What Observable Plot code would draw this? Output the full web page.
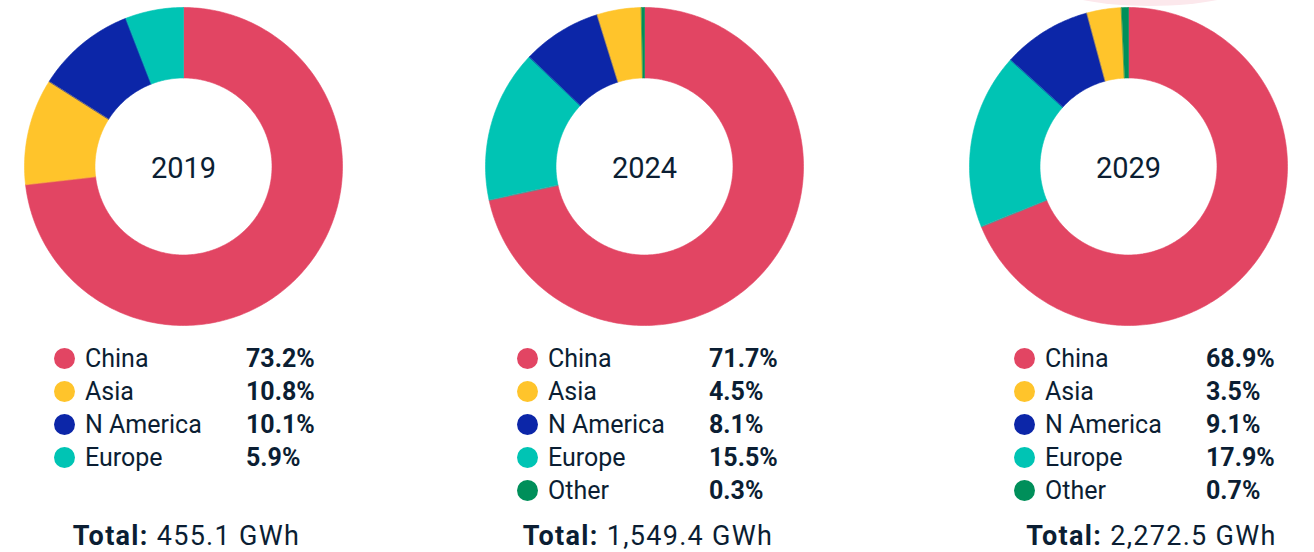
<!DOCTYPE html>
<html>
<head>
<meta charset="utf-8">
<script src="https://cdn.jsdelivr.net/npm/d3@7"></script>
<script src="https://cdn.jsdelivr.net/npm/@observablehq/plot@0.6"></script>
<style>
  html, body { margin: 0; padding: 0; background: #fff; }
  body { width: 1314px; height: 552px; position: relative; overflow: hidden; font-family: Roboto, "Noto Sans", sans-serif; color: #0b1e33; }
  .deco { position: absolute; left: 1050px; top: -40px; width: 200px; height: 46px; border-radius: 50%; background: #fce8ec; z-index: 0; }
  .donut { position: absolute; top: 1px; z-index: 1; }
  .legend { position: absolute; top: 342px; z-index: 1; }
  .row { position: relative; height: 33px; line-height: 33px; font-size: 25px; white-space: nowrap; }
  .dot { position: absolute; left: 0; top: 6px; width: 21px; height: 21px; border-radius: 50%; }
  .lab { position: absolute; left: 31px; top: 0; }
  .pct { position: absolute; left: 192px; top: 0; font-weight: 700; }
  .total { position: absolute; top: 519px; font-size: 27px; letter-spacing: 1.3px; line-height: 34px; white-space: nowrap; transform: translateX(-50%); z-index: 1; }
  .total b { font-weight: 700; }
</style>
</head>
<body>
<div class="deco"></div>
<script>
// ---- data ----
const years = ["2019", "2024", "2029"];
const regions = ["China", "Asia", "N America", "Europe", "Other"];
const regionColors = ["#e24563", "#ffc42b", "#0c26a8", "#00c4b4", "#008f5a"];
// share (%) per region, in the order of `regions`
const share2019 = [73.2, 10.8, 10.1, 5.9, null];
const share2024 = [71.7, 4.5, 8.1, 15.5, 0.3];
const share2029 = [68.9, 3.5, 9.1, 17.9, 0.7];
// clockwise slice order (from 12 o'clock) as drawn in each donut
const order2019 = ["China", "Asia", "N America", "Europe"];
const order2024 = ["China", "Europe", "N America", "Asia", "Other"];
const order2029 = ["China", "Europe", "N America", "Asia", "Other"];
const totals = ["455.1", "1,549.4", "2,272.5"];

const shares = [share2019, share2024, share2029];
const orders = [order2019, order2024, order2029];

// ---- layout ----
const donutCenters = [182.5, 643.5, 1128];
const legendLefts = [54, 517, 1014];
const totalCenters = [186.5, 648, 1151.5];
const outerPx = 159, innerPx = 88.5, boxPx = 330;
const innerRatio = innerPx / outerPx;
const half = (boxPx / 2) / outerPx;

function slicePolygons(shareArr, order) {
  const vals = order.map(r => ({region: r, value: shareArr[regions.indexOf(r)]}));
  const sum = d3.sum(vals, d => d.value);
  let acc = 0;
  return vals.map(d => {
    const a0 = acc / sum * 2 * Math.PI;
    acc += d.value;
    const a1 = acc / sum * 2 * Math.PI;
    const n = Math.max(2, Math.ceil((a1 - a0) / (Math.PI / 180)));
    const outer = d3.range(n + 1).map(i => {
      const a = a0 + (a1 - a0) * i / n;
      return [Math.sin(a), -Math.cos(a)];
    });
    const inner = d3.range(n + 1).map(i => {
      const a = a1 - (a1 - a0) * i / n;
      return [innerRatio * Math.sin(a), -innerRatio * Math.cos(a)];
    });
    const ring = outer.concat(inner);
    ring.push(ring[0]);
    return {type: "Feature", properties: {region: d.region}, geometry: {type: "Polygon", coordinates: [ring]}};
  });
}

years.forEach((year, k) => {
  const features = slicePolygons(shares[k], orders[k]);
  const chart = Plot.plot({
    width: boxPx,
    height: boxPx,
    margin: 0,
    projection: {type: "identity", domain: {type: "MultiPoint", coordinates: [[-half, -half], [half, half]]}},
    color: {domain: regions, range: regionColors},
    style: {background: "transparent", fontFamily: "Roboto, sans-serif"},
    marks: [
      Plot.geo(features, {fill: d => d.properties.region, stroke: d => d.properties.region, strokeWidth: 0.6}),
      Plot.text([year], {x: () => 0, y: () => 0, dy: 2, text: d => d, fontSize: 29, fill: "#0b1e33", fontWeight: 400})
    ]
  });
  const wrap = document.createElement("div");
  wrap.className = "donut";
  wrap.style.left = (donutCenters[k] - boxPx / 2) + "px";
  wrap.appendChild(chart);
  document.body.appendChild(wrap);

  // legend
  const leg = document.createElement("div");
  leg.className = "legend";
  leg.style.left = legendLefts[k] + "px";
  regions.forEach((r, i) => {
    const v = shares[k][i];
    if (v == null) return;
    const row = document.createElement("div");
    row.className = "row";
    row.innerHTML = `<span class="dot" style="background:${regionColors[i]}"></span><span class="lab">${r}</span><span class="pct">${v.toFixed(1)}%</span>`;
    leg.appendChild(row);
  });
  document.body.appendChild(leg);

  const tot = document.createElement("div");
  tot.className = "total";
  tot.style.left = totalCenters[k] + "px";
  tot.innerHTML = `<b>Total:</b> ${totals[k]} GWh`;
  document.body.appendChild(tot);
});
</script>
</body>
</html>
